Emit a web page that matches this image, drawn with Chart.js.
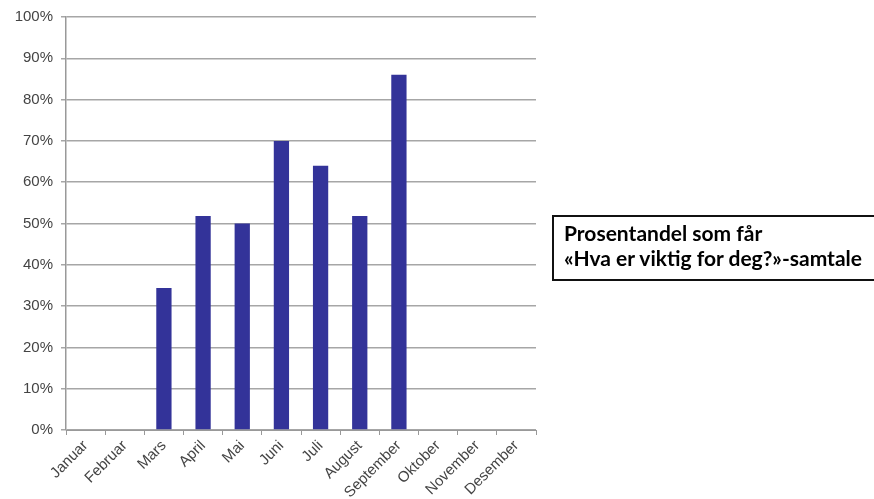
<!DOCTYPE html>
<html lang="no">
<head>
  <meta charset="UTF-8">
  <title>Prosentandel som får «Hva er viktig for deg?»-samtale</title>
  <script src="https://cdnjs.cloudflare.com/ajax/libs/Chart.js/4.4.1/chart.umd.min.js"></script>
  <style>
    html, body { margin: 0; padding: 0; background: #fff; overflow: hidden; }
    #wrap { position: relative; width: 874px; height: 499px; }
    #legendBox {
      position: absolute; left: 552px; top: 215px; width: 340px; height: 59px;
      border: 2px solid #111; box-sizing: content-box;
      font-family: Lato, "Liberation Sans", sans-serif; font-weight: bold;
      font-size: 21px; line-height: 25px; color: #000;
      padding: 3px 0 0 10px;
    }
  </style>
</head>
<body>
  <div id="wrap">
    <canvas id="chart" width="874" height="499"></canvas>
    <div id="legendBox">Prosentandel som får<br>«Hva er viktig for deg?»-samtale</div>
  </div>

  <script>
    // months and share (%) per month
    const months = ['Januar', 'Februar', 'Mars', 'April', 'Mai', 'Juni', 'Juli',
                    'August', 'September', 'Oktober', 'November', 'Desember'];
    const shares = [null, null, 34.4, 51.8, 50, 70, 64, 51.8, 86, null, null, null];
    const yTicks = [0, 10, 20, 30, 40, 50, 60, 70, 80, 90, 100];

    const ctx = document.getElementById('chart').getContext('2d');
    new Chart(ctx, {
      type: 'bar',
      data: {
        labels: months,
        datasets: [{
          data: shares,
          backgroundColor: '#333399',
          borderWidth: 0,
          categoryPercentage: 1,
          barPercentage: 0.39
        }]
      },
      options: {
        responsive: false,
        animation: false,
        layout: { padding: { top: 14, right: 338, left: 0, bottom: 0 } },
        plugins: { legend: { display: false }, tooltip: { enabled: false } },
        scales: {
          x: {
            offset: true,
            grid: { offset: true, drawOnChartArea: false, color: '#999', tickLength: 5 },
            border: { color: '#999', width: 1 },
            ticks: {
              color: '#444', minRotation: 45, maxRotation: 45, autoSkip: false,
              font: { family: 'Liberation Sans', size: 15 }, padding: 2
            },
            afterFit: function (s) { s.height = 69; }
          },
          y: {
            min: 0, max: 100,
            afterBuildTicks: function (s) { s.ticks = yTicks.map(v => ({ value: v })); },
            grid: { color: '#a6a6a6', lineWidth: 1.5, tickLength: 5 },
            border: { color: '#999', width: 1.5 },
            ticks: {
              color: '#444', padding: 8,
              font: { family: 'Liberation Sans', size: 15 },
              callback: v => v + '%'
            },
            afterFit: function (s) { s.width = 66; }
          }
        }
      }
    });
  </script>
</body>
</html>
